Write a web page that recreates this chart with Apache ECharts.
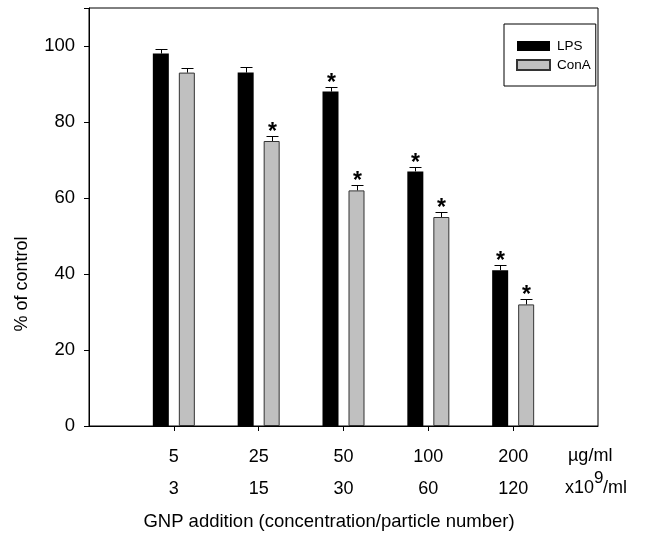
<!DOCTYPE html>
<html>
<head>
<meta charset="utf-8">
<script src="https://cdn.jsdelivr.net/npm/echarts@6/dist/echarts.min.js"></script>
<style>html,body{margin:0;padding:0;background:#fff}#c{width:659px;height:541px}</style>
</head>
<body>
<div id="c"></div>
<script>
var concLabels = ['5', '25', '50', '100', '200'];
var particleLabels = ['3', '15', '30', '60', '120'];
var lpsValues = [98, 93, 88, 67, 41];
var lpsErrors = [1.2, 1.6, 1.2, 1.2, 1.3];
var lpsStars = [false, false, true, true, true];
var conaValues = [93, 75, 62, 55, 32];
var conaErrors = [1.2, 1.4, 1.4, 1.3, 1.4];
var conaStars = [false, true, true, true, true];
var yTicks = [0, 20, 40, 60, 80, 100];

var FONT = '"Liberation Sans", Arial, sans-serif';
var cats = [''].concat(concLabels, ['']);
function pad(arr) { return [null].concat(arr, [null]); }
function errData(vals, errs, stars) {
  return vals.map(function (v, i) { return [i + 1, v, errs[i], stars[i] ? 1 : 0]; });
}
function makeErr(name, vals, errs, stars, dx) {
  return {
    type: 'custom', name: name + '_err', silent: true, z: 5,
    data: errData(vals, errs, stars),
    renderItem: function (params, api) {
      var base = api.coord([api.value(0), api.value(1)]);
      var top = api.coord([api.value(0), api.value(1) + api.value(2)]);
      var x = Math.round(base[0] + dx) + 0.5;
      var ty = Math.round(top[1]) + 0.5;
      var children = [
        { type: 'line', shape: { x1: x, y1: base[1], x2: x, y2: ty }, style: { stroke: '#000', lineWidth: 1 } },
        { type: 'line', shape: { x1: x - 6, y1: ty, x2: x + 6, y2: ty }, style: { stroke: '#000', lineWidth: 1 } }
      ];
      if (api.value(3)) {
        children.push({ type: 'text', style: { text: '*', x: x, y: ty - 4, align: 'center', verticalAlign: 'middle', fontSize: 23, fontWeight: 'bold', fontFamily: FONT, fill: '#000' } });
      }
      return { type: 'group', children: children };
    }
  };
}

var chart = echarts.init(document.getElementById('c'), null, { renderer: 'canvas' });
chart.setOption({
  animation: false,
  backgroundColor: '#fff',
  textStyle: { fontFamily: FONT },
  grid: { left: 89, right: 61, top: 8, bottom: 115, show: true, borderColor: '#000', borderWidth: 1, backgroundColor: 'transparent' },
  legend: {
    orient: 'vertical', left: 504, top: 24,
    data: ['LPS', 'ConA'],
    itemWidth: 33, itemHeight: 10, itemGap: 5,
    padding: [15, 5, 14, 12],
    borderColor: '#000', borderWidth: 1,
    icon: 'rect',
    textStyle: { fontSize: 13.5, fontFamily: FONT, color: '#000', padding: [0, 0, 0, 2] },
    selectedMode: false
  },
  xAxis: {
    type: 'category', data: cats, boundaryGap: false,
    axisLine: { lineStyle: { color: '#000', width: 1 } },
    axisTick: { length: 5, lineStyle: { color: '#000' }, interval: function (i) { return i > 0 && i < cats.length - 1; } },
    axisLabel: {
      margin: 15,
      interval: function (i) { return i > 0 && i < cats.length - 1; },
      formatter: function (v, i) { return '{a|' + v + '}\n{a|' + particleLabels[i - 1] + '}'; },
      rich: { a: { fontSize: 18, lineHeight: 32, fontFamily: FONT, color: '#000' } }
    },
    splitLine: { show: false }
  },
  yAxis: {
    type: 'value', min: 0, max: 110, interval: 20,
    axisLine: { show: true, lineStyle: { color: '#000', width: 1 } },
    axisTick: { show: true, length: 5, lineStyle: { color: '#000' } },
    axisLabel: {
      margin: 14, fontSize: 18.5, fontFamily: FONT, color: '#000',
      formatter: function (v) { return yTicks.indexOf(v) >= 0 ? String(v) : ''; }
    },
    splitLine: { show: false }
  },
  series: [
    { type: 'bar', name: 'LPS', data: pad(lpsValues), barWidth: 16, barGap: '62.5%', itemStyle: { color: '#000' } },
    { type: 'bar', name: 'ConA', data: pad(conaValues), barWidth: 16, itemStyle: { color: '#c0c0c0', borderColor: '#333', borderWidth: 1 } },
    makeErr('LPS', lpsValues, lpsErrors, lpsStars, -13),
    makeErr('ConA', conaValues, conaErrors, conaStars, 13)
  ],
  graphic: [
    { type: 'text', left: 568, top: 447, style: { text: 'µg/ml', fontSize: 18, fontFamily: FONT, fill: '#000' } },
    { type: 'text', left: 565, top: 479, style: { text: 'x10', fontSize: 18, fontFamily: FONT, fill: '#000' } },
    { type: 'text', left: 594, top: 470, style: { text: '9', fontSize: 17, fontFamily: FONT, fill: '#000' } },
    { type: 'text', left: 603, top: 479, style: { text: '/ml', fontSize: 18, fontFamily: FONT, fill: '#000' } },
    { type: 'text', x: 329, y: 522, style: { text: 'GNP addition (concentration/particle number)', fontSize: 18.5, fontFamily: FONT, fill: '#000', align: 'center', verticalAlign: 'middle' } },
    { type: 'text', x: 22, y: 284, rotation: Math.PI / 2, style: { text: '% of control', fontSize: 18, fontFamily: FONT, fill: '#000', align: 'center', verticalAlign: 'middle' } }
  ]
});
</script>
</body>
</html>
